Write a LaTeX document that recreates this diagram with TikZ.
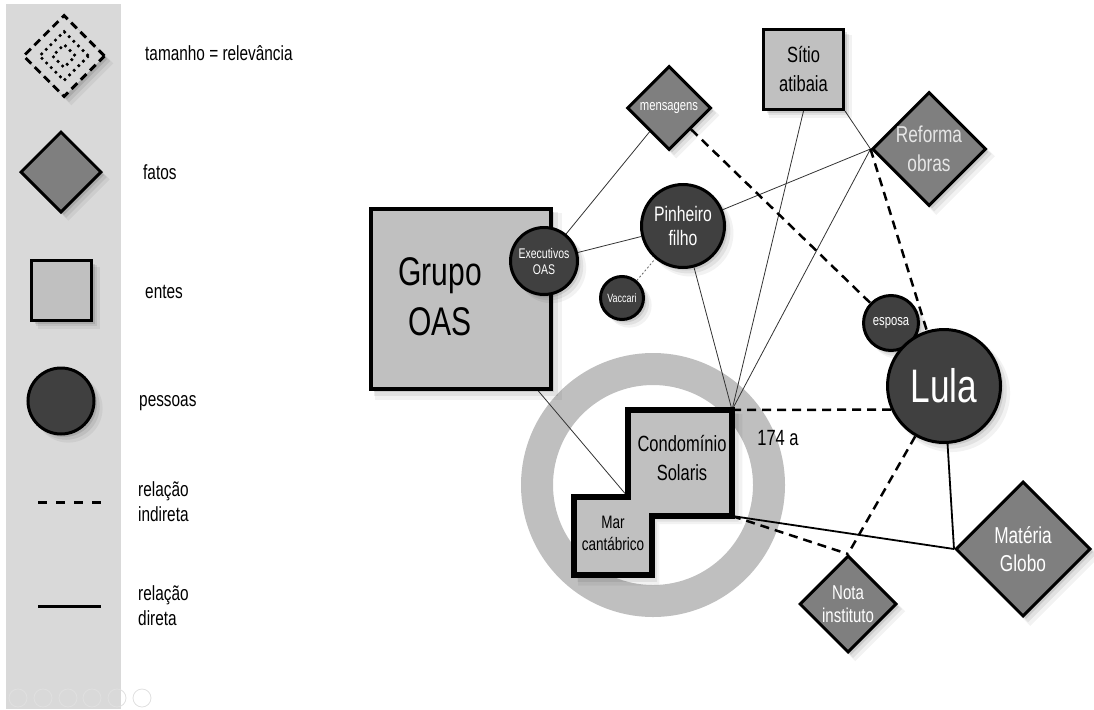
\documentclass[tikz,border=0pt]{standalone}
\usepackage{fontspec}
\setmainfont{Liberation Sans}[FakeStretch=0.75]
\usetikzlibrary{shapes.geometric,shadows,calc}
\pgfdeclarelayer{bottom}
\pgfdeclarelayer{background}
\pgfsetlayers{bottom,background,main}
\definecolor{panel}{HTML}{D9D9D9}
\definecolor{factc}{HTML}{7F7F7F}
\definecolor{entc}{HTML}{C0C0C0}
\definecolor{pesc}{HTML}{404040}
\definecolor{ringc}{HTML}{BFBFBF}
\definecolor{reftxt}{HTML}{E6E6E6}
\newcommand\fz[2]{\fontsize{#1}{#2}\selectfont}
\tikzset{
 shad/.style={
   general shadow={shadow xshift=7pt, shadow yshift=-7pt, shadow scale=1.04, fill=black, opacity=0.05},
   general shadow={shadow xshift=5pt, shadow yshift=-5pt, shadow scale=1.02, fill=black, opacity=0.07},
   general shadow={shadow xshift=3pt, shadow yshift=-3pt, fill=black, opacity=0.10}},
 pessoa/.style={circle, draw=black, line width=3pt, fill=pesc, text=white, align=center, inner sep=0pt, shad},
 fato/.style={diamond, aspect=1, draw=black, line width=3pt, fill=factc, text=white, align=center, inner sep=0pt, shad},
 ente/.style={rectangle, draw=black, line width=3pt, fill=entc, align=center, inner sep=0pt, shad},
 fino/.style={line width=0.8pt, draw=black!80},
 indireta/.style={line width=2.5pt, dash pattern=on 9pt off 6pt},
 direta/.style={line width=1.8pt},
 lbl/.style={anchor=west, align=left, inner sep=0pt, font=\fz{20.5}{25}},
 txt/.style={align=center, inner sep=0pt},
}
\begin{document}
\begin{tikzpicture}[x=1pt,y=-1pt]
\useasboundingbox (0,0) rectangle (1094,709);
\begin{pgfonlayer}{bottom}
\fill[panel] (6,4) rectangle (121,709);
\draw[ringc, line width=32pt] (653,485) circle[radius=116];
\foreach \i in {18,43,68,92,117,142} \draw[black!12, line width=0.8pt] (\i,698) circle[radius=9];
\end{pgfonlayer}

% legend
\node[diamond, aspect=1, draw=black, fill=panel, line width=3pt, dash pattern=on 8pt off 5pt, minimum size=82, inner sep=0pt, shad] (lgrel) at (64,56) {};
\node[diamond, aspect=1, draw=black, line width=2.5pt, dash pattern=on 2.5pt off 4pt, minimum size=50, inner sep=0pt] (lgrelb) at (64,56) {};
\node[diamond, aspect=1, draw=black, line width=2.5pt, dash pattern=on 2.5pt off 4pt, minimum size=24, inner sep=0pt] (lgrelc) at (64,56) {};
\node[fato, minimum size=81] (lgfato) at (61,172) {};
\node[ente, minimum size=60] (lgente) at (61.5,290.5) {};
\node[pessoa, minimum size=66] (lgpes) at (61,401) {};
\coordinate (lgia) at (38,502);
\coordinate (lgib) at (101,502);
\coordinate (lgda) at (38,606);
\coordinate (lgdb) at (101,606);
\draw[line width=3pt, dash pattern=on 9pt off 9pt] (lgia) -- (lgib);
\draw[line width=3pt] (lgda) -- (lgdb);
\node[lbl] (lt1) at (145,53) {tamanho = relevância};
\node[lbl] (lt2) at (143,172) {fatos};
\node[lbl] (lt3) at (145,292) {entes};
\node[lbl] (lt4) at (139,403) {pessoas};
\node[lbl] (lt5) at (138,502) {relação\\indireta};
\node[lbl] (lt6) at (138,606) {relação\\direta};

% condominio shape
\draw[line width=5.5pt, fill=entc, miter limit=10, shad] (628,410) -- (732,410) -- (732,516) -- (652,516) -- (652,575) -- (574,575) -- (574,497) -- (628,497) -- cycle;
\coordinate (condTR) at (732,410);
\coordinate (condBR) at (732,516);
\coordinate (marIn) at (628,497);
\node[txt, font=\fz{22}{29}] (condtxt) at (682,458) {Condomínio\\Solaris};
\node[txt, font=\fz{18}{22}] (martxt) at (613,533) {Mar\\cantábrico};
\node[txt, font=\fz{22}{26}] (n174) at (778,438) {174 a};

% main nodes
\node[ente, line width=4pt, minimum size=180] (grupo) at (461,299) {};
\node[txt, font=\fz{40}{50}] (grupotxt) at (440,297) {Grupo\\OAS};
\node[ente, minimum size=80, font=\fz{22}{29}] (sitio) at (803.5,69.5) {Sítio\\atibaia};
\node[fato, minimum size=84, font=\fz{15}{18}] (mens) at (669,108) {mensagens};
\node[fato, minimum size=114, text=reftxt, font=\fz{23}{29}] (ref) at (929,149) {Reforma\\obras};
\node[fato, minimum size=135, font=\fz{23}{28}] (glob) at (1023,549) {Matéria\\Globo};
\node[fato, minimum size=97, font=\fz{20}{23}] (nota) at (848,604) {Nota\\instituto};
\node[pessoa, minimum size=67, font=\fz{14}{16}] (exec) at (544,261) {Executivos\\OAS};
\node[pessoa, minimum size=83, font=\fz{21}{24}] (pin) at (683,226) {Pinheiro\\filho};
\node[pessoa, minimum size=43, font=\fz{12}{14}] (vac) at (622,298) {Vaccari};
\node[pessoa, minimum size=55, font=\fz{15}{18}] (esposa) at (891,323) {esposa};
\node[pessoa, minimum size=113, font=\fz{47}{50}] (lula) at (944,386) {Lula};

% connectors
\begin{pgfonlayer}{background}
\draw[fino] (exec) -- (mens);
\draw[fino] (exec) -- (pin);
\draw[fino] (pin) -- (ref.west);
\draw[fino] (pin) -- (condTR);
\draw[fino] (sitio.south) -- (condTR);
\draw[fino] (sitio.south east) -- (ref.west);
\draw[fino] (ref.west) -- (condTR);
\draw[fino] (grupo) -- (marIn);
\draw[line width=0.8pt, black!60, dash pattern=on 2pt off 2pt] (vac) -- (pin);
\draw[indireta] (mens) -- (esposa);
\draw[indireta] (ref.west) -- (lula);
\draw[indireta] (condTR) -- (lula.204);
\draw[indireta] (lula) -- (nota.north);
\draw[indireta] (condBR) -- (nota.north);
\draw[direta] (condBR) -- (glob.west);
\draw[direta] (lula) -- (glob.west);
\end{pgfonlayer}
\end{tikzpicture}
\end{document}
